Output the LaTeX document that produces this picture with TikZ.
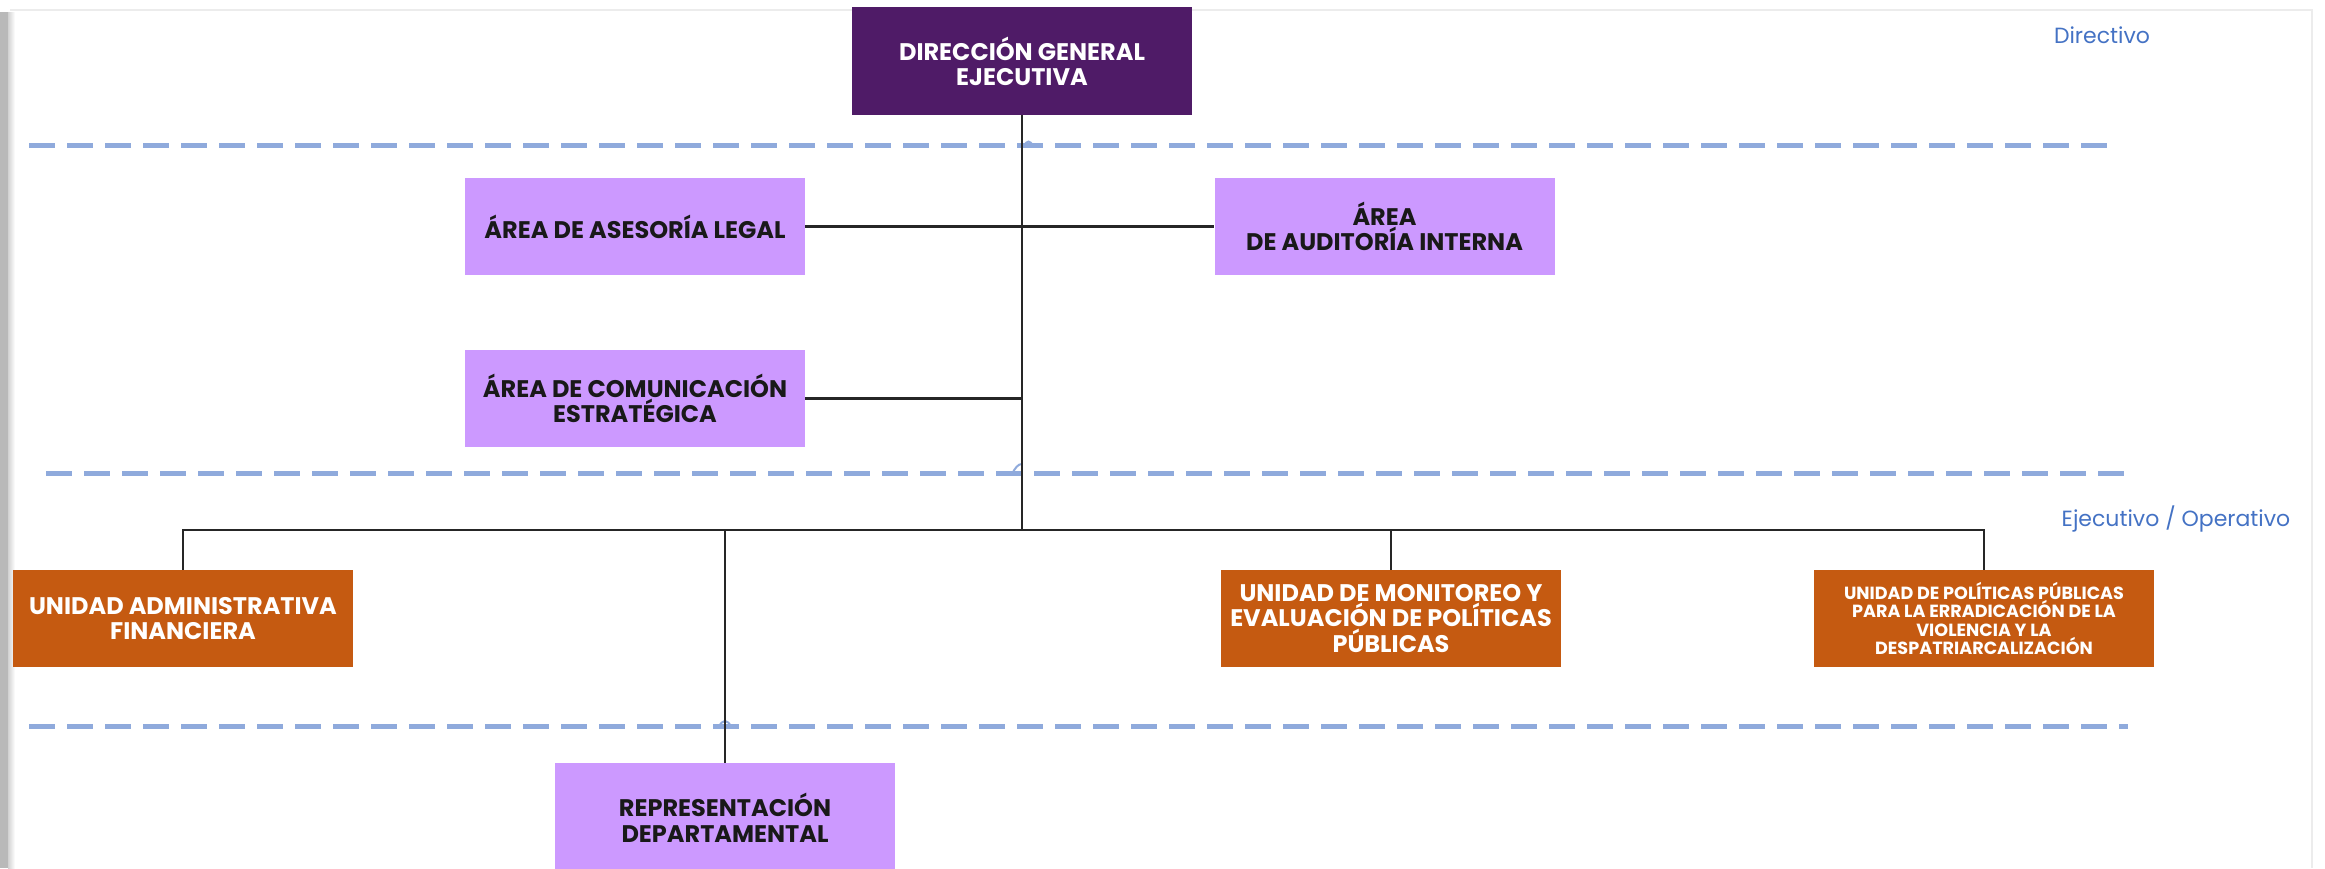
\documentclass[tikz,border=0pt]{standalone}
\usepackage{fontspec}
\setmainfont{Poppins}
\definecolor{dirpurple}{HTML}{4F1B67}
\definecolor{lilac}{HTML}{CC99FF}
\definecolor{unitorange}{HTML}{C55A11}
\definecolor{dashblue}{HTML}{8FAADC}
\definecolor{labelblue}{HTML}{4472C4}
\begin{document}
\begin{tikzpicture}[x=0.5pt,y=-0.5pt,
  box/.style={rectangle, inner sep=0pt, minimum width=170pt, minimum height=48.5pt,
    align=center, font=\fontsize{12}{12.8}\selectfont\bfseries},
  topbox/.style={box, fill=dirpurple, text=white, minimum height=54pt,
    font=\fontsize{12}{12.5}\selectfont\bfseries},
  areabox/.style={box, fill=lilac, text=black!90},
  unitbox/.style={box, fill=unitorange, text=white},
  smalltext/.style={font=\fontsize{8.8}{9.3}\selectfont\bfseries},
  levelline/.style={draw=dashblue, line width=2.5pt, dash pattern=on 13pt off 6pt},
  hop/.style={draw=dashblue, line width=1pt},
  link/.style={draw=black!85, line width=1.3pt},
  levellabel/.style={font=\fontsize{11}{12}\selectfont, text=labelblue, inner sep=0pt}]
\useasboundingbox (0,0) rectangle (2325,868);
% page frame
\fill[gray!55] (0,12) rectangle (8,868);
\shade[left color=gray!35, right color=white] (8,12) rectangle (15,868);
\draw[gray!15, line width=0.6pt] (10,10) -- (2312,10) -- (2312,868);

% level separators
\coordinate (l1a) at (29,145);   \coordinate (l1b) at (2113,145);
\coordinate (l2a) at (46,473);   \coordinate (l2b) at (2132,473);
\coordinate (l3a) at (29,726);   \coordinate (l3b) at (2128,726);
\draw[levelline] (l1a) -- (l1b);
\draw[levelline] (l2a) -- (l2b);
\draw[levelline] (l3a) -- (l3b);
\draw[hop] (1024,146) .. controls (1027,140) and (1030,140) .. (1033,146);
\draw[hop] (1012,474) .. controls (1015,468) and (1018,464) .. (1022,464);
\draw[hop] (719,727) .. controls (722,719) and (728,719) .. (731,727);

% level labels
\node[levellabel] (lvl1) at (2102,35) {Directivo};
\node[levellabel] (lvl2) at (2176,519) {Ejecutivo / Operativo};

% boxes
\node[topbox]  (dir)   at (1022,61)    {DIRECCIÓN GENERAL\\EJECUTIVA};
\node[areabox] (legal) at (635,226.5)  {ÁREA DE ASESORÍA LEGAL};
\node[areabox] (audit) at (1384.5,226.5) {ÁREA\\DE AUDITORÍA INTERNA};
\node[areabox] (comm)  at (635,398.5)  {ÁREA DE COMUNICACIÓN\\ESTRATÉGICA};
\node[unitbox] (admin) at (183,618.5)  {UNIDAD ADMINISTRATIVA\\FINANCIERA};
\node[unitbox] (monit) at (1391,618.5) {UNIDAD DE MONITOREO Y\\EVALUACIÓN DE POLÍTICAS\\PÚBLICAS};
\node[unitbox, smalltext] (polit) at (1984,618.5) {UNIDAD DE POLÍTICAS PÚBLICAS\\PARA LA ERRADICACIÓN DE LA\\VIOLENCIA Y LA\\DESPATRIARCALIZACIÓN};
\node[areabox, minimum height=55pt] (repr) at (725,818) {REPRESENTACIÓN\\DEPARTAMENTAL};

% connectors
\coordinate (bus) at (1022,530);
\draw[link] (dir.south) -- (bus);
\draw[link] (legal.east) -- (audit.west);
\draw[link] (comm.east) -- (comm.east -| dir.south);
\draw[link] (admin.north) |- (bus) -| (polit.north);
\draw[link] (repr.north) -- (repr.north |- bus);
\draw[link] (monit.north) -- (monit.north |- bus);
\end{tikzpicture}
\end{document}
